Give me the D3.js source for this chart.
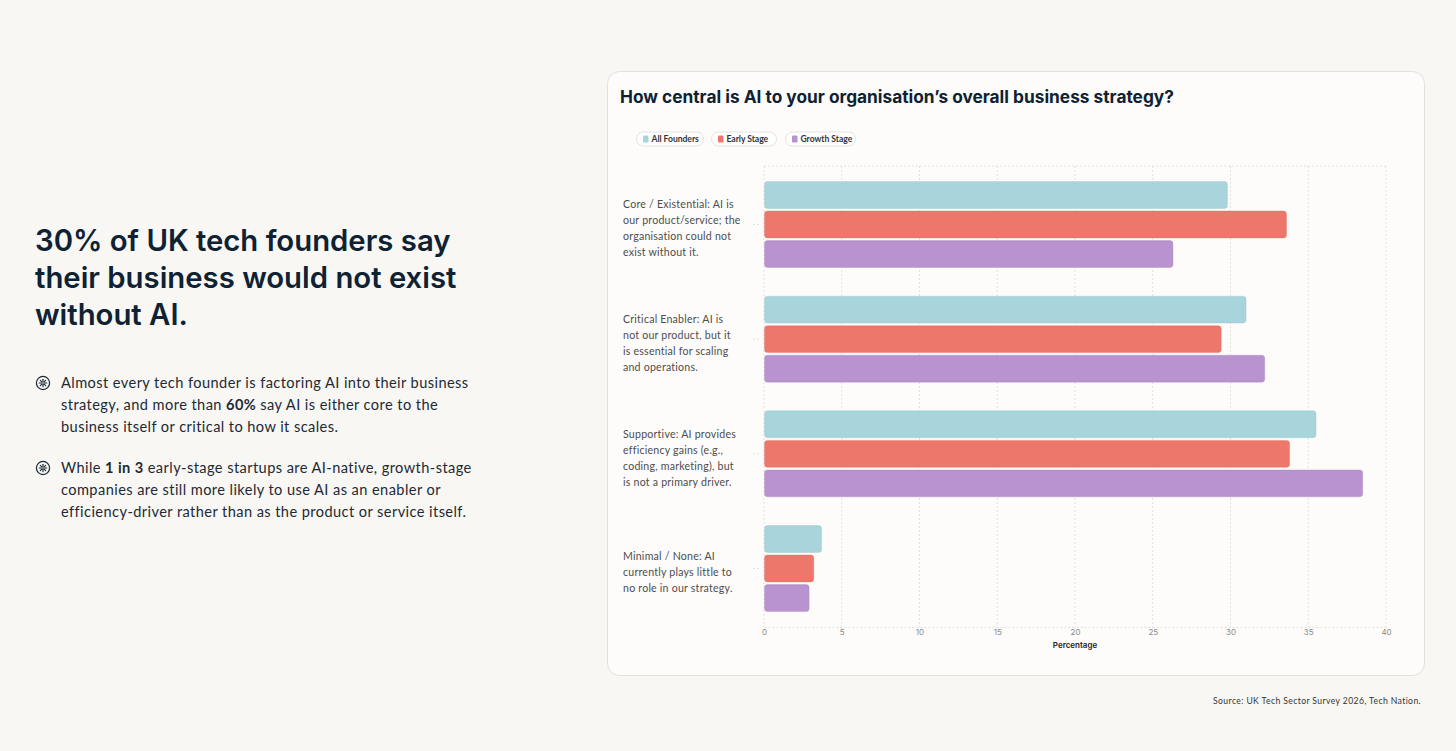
<!DOCTYPE html>
<html>
<head>
<meta charset="utf-8">
<script src="https://cdn.jsdelivr.net/npm/d3@7"></script>
<style>
  html, body { margin: 0; padding: 0; background: #f8f7f3; }
  svg { display: block; font-family: "Lato", "Open Sans", sans-serif; }
</style>
</head>
<body>
<div id="chart"></div>
<script>
// chart data
const seriesNames = ["All Founders", "Early Stage", "Growth Stage"];
const seriesColors = ["#a8d4db", "#ec776a", "#b893cf"];
const categoryLines = [
    ["Core / Existential: AI is", "our product/service; the", "organisation could not", "exist without it."],
    ["Critical Enabler: AI is", "not our product, but it", "is essential for scaling", "and operations."],
    ["Supportive: AI provides", "efficiency gains (e.g.,", "coding, marketing), but", "is not a primary driver."],
    ["Minimal / None: AI", "currently plays little to", "no role in our strategy."]
];
const allFounders = [29.8, 31.0, 35.5, 3.7];
const earlyStage = [33.6, 29.4, 33.8, 3.2];
const growthStage = [26.3, 32.2, 38.5, 2.9];
const xTicks = [0, 5, 10, 15, 20, 25, 30, 35, 40];

const headlineLines = ["30% of UK tech founders say", "their business would not exist", "without AI."];
// bullets: arrays of lines, each line made of [text, bold] pieces
const bullets = [
    [
        [["Almost every tech founder is factoring AI into their business", false]],
        [["strategy, and more than ", false], ["60%", true], [" say AI is either core to the", false]],
        [["business itself or critical to how it scales.", false]]
    ],
    [
        [["While ", false], ["1 in 3", true], [" early-stage startups are AI-native, growth-stage", false]],
        [["companies are still more likely to use AI as an enabler or", false]],
        [["efficiency-driver rather than as the product or service itself.", false]]
    ]
];

const W = 1456, H = 751;

const svg = d3.select("#chart").append("svg")
    .attr("width", W)
    .attr("height", H);

svg.append("rect").attr("width", W).attr("height", H).attr("fill", "#f8f7f3");

// ---- left text block
const headline = svg.append("text")
    .attr("x", 35)
    .attr("y", 251)
    .attr("fill", "#0f2233")
    .style("font-family", "Inter, Lato, sans-serif")
    .style("font-size", "29.3px")
    .style("font-weight", 600);

headline.selectAll("tspan")
    .data(headlineLines)
    .join("tspan")
    .attr("x", 35)
    .attr("dy", (d, i) => i === 0 ? 0 : 37)
    .text(d => d);

const bulletTop = [383, 468];
bullets.forEach((lines, bi) => {
    const g = svg.append("g").attr("transform", "translate(0," + bulletTop[bi] + ")");

    // small sun icon
    const icon = g.append("g").attr("transform", "translate(43,0)");
    icon.append("circle").attr("r", 6.6).attr("fill", "none").attr("stroke", "#1d2a36").attr("stroke-width", 1.2);
    d3.range(8).forEach(k => {
        const a = k * Math.PI / 4;
        icon.append("line")
            .attr("x1", 1.2 * Math.cos(a)).attr("y1", 1.2 * Math.sin(a))
            .attr("x2", 3.8 * Math.cos(a)).attr("y2", 3.8 * Math.sin(a))
            .attr("stroke", "#1d2a36").attr("stroke-width", 1.1).attr("stroke-linecap", "round");
    });

    lines.forEach((pieces, li) => {
        const t = g.append("text")
            .attr("x", 61)
            .attr("y", li * 22)
            .attr("dy", "0.35em")
            .attr("fill", "#1d2a36")
            .style("font-size", "14.6px")
            .style("letter-spacing", "0.42px");
        t.selectAll("tspan")
            .data(pieces)
            .join("tspan")
            .style("font-weight", d => d[1] ? 700 : 400)
            .text(d => d[0]);
    });
});

// ---- card
svg.append("rect")
    .attr("x", 607.5).attr("y", 71.5)
    .attr("width", 817).attr("height", 604)
    .attr("rx", 12)
    .attr("fill", "#fdfcfa")
    .attr("stroke", "#e3e1db");

svg.append("text")
    .attr("x", 620)
    .attr("y", 103)
    .attr("fill", "#0f2233")
    .style("font-family", "Inter, Lato, sans-serif")
    .style("font-size", "17.3px")
    .style("font-weight", 700)
    .text("How central is AI to your organisation\u2019s overall business strategy?");

// legend pills
const legendX = [636, 711, 785];
const legendW = [67, 65, 70];
const legend = svg.append("g").attr("transform", "translate(0,139)");
seriesNames.forEach((name, i) => {
    const g = legend.append("g").attr("transform", "translate(" + legendX[i] + ",0)");
    g.append("rect")
        .attr("x", 0.5).attr("y", -7)
        .attr("width", legendW[i]).attr("height", 14)
        .attr("rx", 7)
        .attr("fill", "#ffffff")
        .attr("stroke", "#e6e4df");
    g.append("rect")
        .attr("x", 7).attr("y", -3.5)
        .attr("width", 5.5).attr("height", 7)
        .attr("rx", 1.2)
        .attr("fill", seriesColors[i]);
    g.append("text")
        .attr("x", 15.5)
        .attr("dy", "0.35em")
        .attr("fill", "#333")
        .style("font-size", "8.6px")
        .style("font-weight", 700)
        .style("letter-spacing", "-0.05px")
        .text(name);
});

// ---- plot area
const margin = {top: 166, left: 764, right: W - 1386, bottom: H - 627};
const plotW = W - margin.left - margin.right;
const plotH = H - margin.top - margin.bottom;

const plot = svg.append("g")
    .attr("transform", "translate(" + margin.left + "," + margin.top + ")");

const x = d3.scaleLinear().domain([0, 40]).range([0, plotW]);
const y0 = d3.scaleBand()
    .domain(d3.range(categoryLines.length))
    .range([0, plotH])
    .paddingInner(0.25)
    .paddingOuter(0.135);
const y1 = d3.scaleBand()
    .domain(d3.range(seriesNames.length))
    .range([0, y0.bandwidth()])
    .paddingInner(0.09);

const gridColor = "#e2e1dd";

// dashed frame and grid
plot.append("line")
    .attr("x1", 0).attr("x2", plotW).attr("y1", 0).attr("y2", 0)
    .attr("stroke", gridColor).attr("stroke-dasharray", "2,2");

plot.selectAll(".grid")
    .data(xTicks)
    .join("line")
    .attr("class", "grid")
    .attr("x1", d => x(d)).attr("x2", d => x(d))
    .attr("y1", 0).attr("y2", plotH)
    .attr("stroke", gridColor)
    .attr("stroke-dasharray", "2,2");

// x axis
const xAxis = d3.axisBottom(x).tickValues(xTicks).tickSize(0).tickPadding(2);
const xg = plot.append("g")
    .attr("transform", "translate(0," + plotH + ")")
    .call(xAxis);
xg.select(".domain").attr("stroke", gridColor).attr("stroke-dasharray", "2,2");
xg.selectAll("text")
    .attr("fill", "#8a8a8a")
    .style("font-family", "Inter, Lato, sans-serif")
    .style("font-size", "8px");

plot.append("text")
    .attr("x", plotW / 2)
    .attr("y", plotH + 21)
    .attr("text-anchor", "middle")
    .attr("fill", "#222")
    .style("font-family", "Inter, Lato, sans-serif")
    .style("font-size", "8px")
    .style("font-weight", 600)
    .text("Percentage");

// y axis: small dashed ticks + wrapped labels
const yg = plot.append("g");
yg.selectAll(".ytick")
    .data(d3.range(categoryLines.length))
    .join("line")
    .attr("class", "ytick")
    .attr("x1", -11).attr("x2", -3)
    .attr("y1", d => y0(d) + y0.bandwidth() / 2)
    .attr("y2", d => y0(d) + y0.bandwidth() / 2)
    .attr("stroke", gridColor)
    .attr("stroke-dasharray", "2,2");

yg.selectAll(".ylabel")
    .data(categoryLines)
    .join("text")
    .attr("class", "ylabel")
    .attr("fill", "#4d4d4d")
    .style("font-size", "10.6px")
    .style("letter-spacing", "0.22px")
    .each(function (lines, i) {
        const cy = y0(i) + y0.bandwidth() / 2 + 4;
        d3.select(this).selectAll("tspan")
            .data(lines)
            .join("tspan")
            .attr("x", 623 - margin.left)
            .attr("y", (d, j) => cy + (j - (lines.length - 1) / 2) * 16)
            .attr("dy", "0.35em")
            .text(d => d);
    });

// bars
const rows = categoryLines.map((c, i) => [allFounders[i], earlyStage[i], growthStage[i]]);

plot.selectAll(".group")
    .data(rows)
    .join("g")
    .attr("class", "group")
    .attr("transform", (d, i) => "translate(0," + y0(i) + ")")
    .selectAll("rect")
    .data(d => d)
    .join("rect")
    .attr("x", x(0) + 0.5)
    .attr("y", (d, j) => y1(j))
    .attr("width", d => x(d) - x(0) - 0.5)
    .attr("height", y1.bandwidth())
    .attr("rx", 3)
    .attr("fill", (d, j) => seriesColors[j])
    .attr("stroke", (d, j) => d3.color(seriesColors[j]).darker(0.25))
    .attr("stroke-opacity", 0.35)
    .attr("stroke-width", 1);

// source
svg.append("text")
    .attr("x", 1421)
    .attr("y", 701)
    .attr("dy", "0.35em")
    .attr("text-anchor", "end")
    .attr("fill", "#333")
    .style("font-size", "8.6px")
    .style("letter-spacing", "0.4px")
    .text("Source: UK Tech Sector Survey 2026, Tech Nation.");
</script>
</body>
</html>
